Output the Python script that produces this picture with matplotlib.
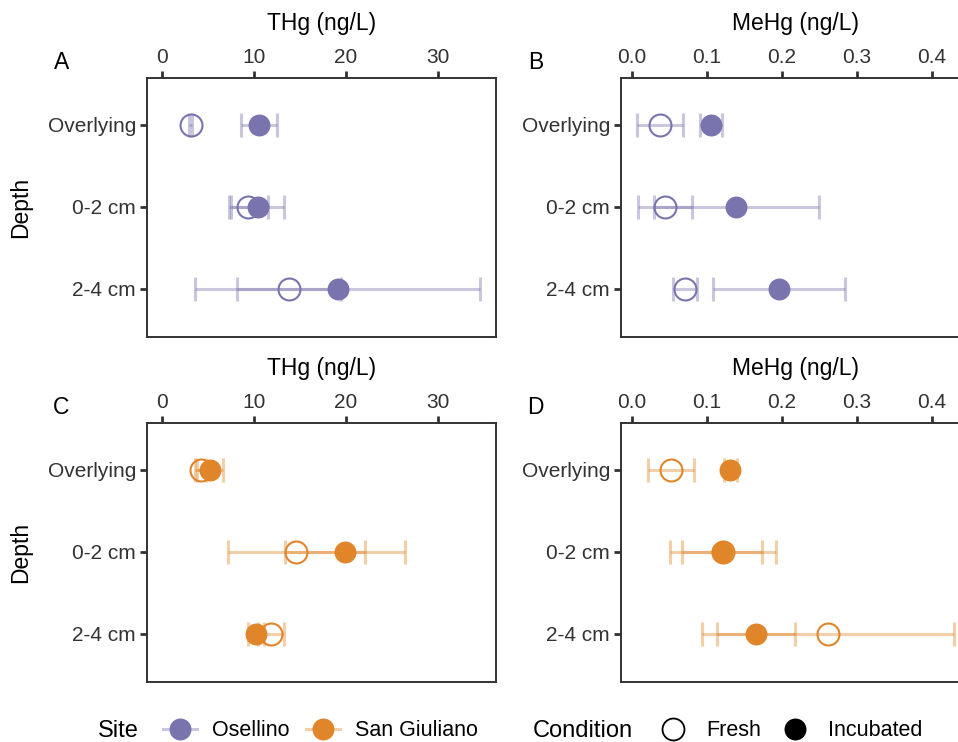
import matplotlib
matplotlib.use("Agg")
import matplotlib.pyplot as plt
from matplotlib.lines import Line2D

plt.rcParams['font.family'] = ['Liberation Sans', 'DejaVu Sans']

# depth categories (top to bottom)
depths = ['Overlying', '0-2 cm', '2-4 cm']

# Osellino - THg (ng/L)
os_thg_fresh = [3.1, 9.4, 13.8]
os_thg_fresh_err = [0.13, 2.17, 5.6]
os_thg_inc = [10.5, 10.4, 19.1]
os_thg_inc_err = [1.95, 2.86, 15.5]

# Osellino - MeHg (ng/L)
os_mehg_fresh = [0.037, 0.044, 0.071]
os_mehg_fresh_err = [0.031, 0.036, 0.016]
os_mehg_inc = [0.105, 0.139, 0.196]
os_mehg_inc_err = [0.015, 0.110, 0.088]

# San Giuliano - THg (ng/L)
sg_thg_fresh = [4.2, 14.6, 11.85]
sg_thg_fresh_err = [0.6, 7.46, 1.45]
sg_thg_inc = [5.2, 19.9, 10.25]
sg_thg_inc_err = [1.45, 6.5, 0.87]

# San Giuliano - MeHg (ng/L)
sg_mehg_fresh = [0.052, 0.121, 0.261]
sg_mehg_fresh_err = [0.031, 0.071, 0.168]
sg_mehg_inc = [0.131, 0.120, 0.165]
sg_mehg_inc_err = [0.0085, 0.053, 0.052]

purple = '#7a74ae'
orange = '#e0852a'
dark = '#333333'

fig = plt.figure(figsize=(9.58, 7.42), dpi=100)
W, H = 958, 742


def add_ax(left, top, width, height):
    return fig.add_axes([left / W, 1 - (top + height) / H, width / W, height / H])


def draw_panel(ax, fresh, fresh_err, inc, inc_err, color, xlim, xticks, xticklabels, xlabel, letter):
    y = list(range(1, len(depths) + 1))
    for vals, errs in [(fresh, fresh_err), (inc, inc_err)]:
        ax.errorbar(vals, y, xerr=errs, fmt='none', ecolor=color, alpha=0.4,
                    elinewidth=2.2, capsize=8.3, capthick=2.2, zorder=2)
    # fresh = hollow circle, incubated = filled circle
    ax.plot(fresh, y, 'o', ms=15.8, mfc='none', mec=color, mew=1.5, zorder=3)
    ax.plot(inc, y, 'o', ms=15.8, mfc=color, mec=color, mew=0, zorder=4)

    ax.set_xlim(*xlim)
    ax.set_ylim(3.59, 0.43)
    ax.set_yticks(y)
    ax.set_yticklabels(depths)
    ax.set_ylabel('Depth', fontsize=16.5, color='black')
    ax.yaxis.set_label_coords(-0.33, 0.5)
    ax.xaxis.tick_top()
    ax.xaxis.set_label_position('top')
    ax.set_xticks(xticks)
    ax.set_xticklabels(xticklabels)
    ax.set_xlabel(xlabel, fontsize=16.5, color='black', labelpad=13)
    ax.tick_params(axis='both', labelsize=15, colors=dark, labelcolor=dark,
                   length=5, width=2, direction='out', pad=3)
    for s in ax.spines.values():
        s.set_color(dark)
        s.set_linewidth(1.4)
    ax.text(-0.245, 1.06, letter, transform=ax.transAxes, fontsize=16.5,
            ha='center', va='center', color='black')


thg_ticks = [0, 10, 20, 30]
mehg_ticks = [0.0, 0.1, 0.2, 0.3, 0.4]
mehg_labels = ['0.0', '0.1', '0.2', '0.3', '0.4']

axA = add_ax(147, 78, 349, 259)
draw_panel(axA, os_thg_fresh, os_thg_fresh_err, os_thg_inc, os_thg_inc_err, purple,
           (-1.63, 36.3), thg_ticks, [str(t) for t in thg_ticks], 'THg (ng/L)', 'A')

axB = add_ax(621, 78, 349, 259)
draw_panel(axB, os_mehg_fresh, os_mehg_fresh_err, os_mehg_inc, os_mehg_inc_err, purple,
           (-0.0147, 0.4507), mehg_ticks, mehg_labels, 'MeHg (ng/L)', 'B')
axB.set_ylabel('')

axC = add_ax(147, 423, 349, 259)
draw_panel(axC, sg_thg_fresh, sg_thg_fresh_err, sg_thg_inc, sg_thg_inc_err, orange,
           (-1.63, 36.3), thg_ticks, [str(t) for t in thg_ticks], 'THg (ng/L)', 'C')

axD = add_ax(621, 423, 349, 259)
draw_panel(axD, sg_mehg_fresh, sg_mehg_fresh_err, sg_mehg_inc, sg_mehg_inc_err, orange,
           (-0.0147, 0.4507), mehg_ticks, mehg_labels, 'MeHg (ng/L)', 'D')
axD.set_ylabel('')

# legends
leg_y = 1 - 731 / H
site_handles = [
    (Line2D([], [], color=c, alpha=0.4, lw=2.2),
     Line2D([], [], ls='none', marker='o', ms=15.8, mfc=c, mec=c, mew=0))
    for c in (purple, orange)
]
fig.text(98 / W, leg_y, 'Site', fontsize=17, ha='left', va='center')
fig.legend(site_handles, ['Osellino', 'San Giuliano'], ncol=2, frameon=False,
           loc='center left', bbox_to_anchor=(163 / W, leg_y),
           borderaxespad=0, borderpad=0,
           fontsize=15.5, handlelength=1.58, handletextpad=0.7, columnspacing=0.75)

cond_handles = [
    Line2D([], [], ls='none', marker='o', ms=15.8, mfc='white', mec='black', mew=1.3),
    Line2D([], [], ls='none', marker='o', ms=15.8, mfc='black', mec='black', mew=0),
]
fig.text(533 / W, leg_y, 'Condition', fontsize=17, ha='left', va='center')
fig.legend(cond_handles, ['Fresh', 'Incubated'], ncol=2, frameon=False,
           loc='center left', bbox_to_anchor=(660 / W, leg_y),
           borderaxespad=0, borderpad=0,
           fontsize=15.5, handlelength=1.2, handletextpad=0.93, columnspacing=1.0)

fig.savefig('out.png', dpi=100)
